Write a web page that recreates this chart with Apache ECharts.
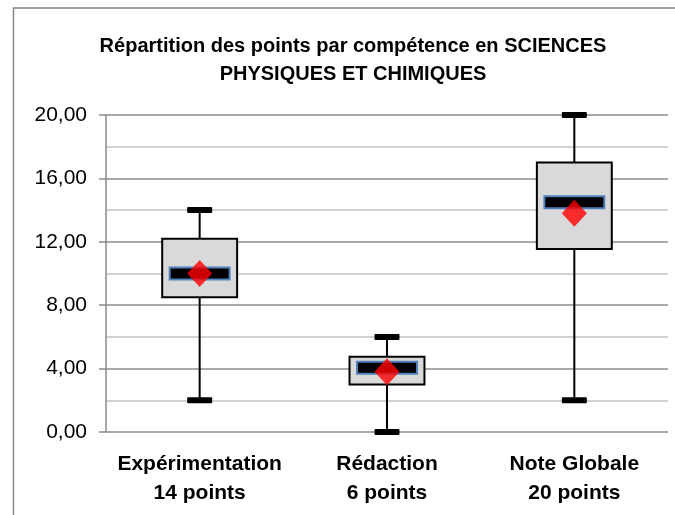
<!DOCTYPE html>
<html>
<head>
<meta charset="utf-8">
<script src="https://cdn.jsdelivr.net/npm/echarts@6/dist/echarts.min.js"></script>
<style>
    html, body { margin: 0; padding: 0; background: #fff; }
    #chart { width: 675px; height: 515px; }
</style>
</head>
<body>
<div id="chart"></div>
<script>
// categories (compétence + barème)
const categories = ['Expérimentation\n14 points', 'Rédaction\n6 points', 'Note Globale\n20 points'];
// boîtes à moustaches
const minVals = [2, 0, 2];
const q1Vals = [8.5, 3.0, 11.55];
const medianVals = [10, 4.05, 14.5];
const q3Vals = [12.2, 4.75, 17.0];
const maxVals = [14, 6, 20];
// moyennes (losanges rouges)
const meanVals = [10, 3.8, 13.8];

const boxData = categories.map((c, i) => [i, minVals[i], q1Vals[i], medianVals[i], q3Vals[i], maxVals[i]]);
const font = "'Liberation Sans', Arial, sans-serif";

const chart = echarts.init(document.getElementById('chart'));

function renderBox(params, api) {
    const i = api.value(0);
    const cx = api.coord([i, 0])[0];
    const catW = api.size([1, 0])[0];
    const boxW = catW * 0.4;
    const medW = catW * 0.32;
    const capW = 25;
    const yMin = api.coord([i, api.value(1)])[1];
    const yQ1 = api.coord([i, api.value(2)])[1];
    const yMed = api.coord([i, api.value(3)])[1];
    const yQ3 = api.coord([i, api.value(4)])[1];
    const yMax = api.coord([i, api.value(5)])[1];
    const black = { stroke: '#000', lineWidth: 2 };
    return {
        type: 'group',
        children: [
            { type: 'line', shape: { x1: cx, y1: yMax, x2: cx, y2: yQ3 }, style: black },
            { type: 'line', shape: { x1: cx, y1: yQ1, x2: cx, y2: yMin }, style: black },
            { type: 'rect', shape: { x: cx - capW / 2, y: yMax - 3, width: capW, height: 6, r: 1 }, style: { fill: '#000' } },
            { type: 'rect', shape: { x: cx - capW / 2, y: yMin - 3, width: capW, height: 6, r: 1 }, style: { fill: '#000' } },
            { type: 'rect', shape: { x: cx - boxW / 2, y: yQ3, width: boxW, height: yQ1 - yQ3 }, style: { fill: '#d9d9d9', stroke: '#000', lineWidth: 2 } },
            { type: 'rect', shape: { x: cx - medW / 2, y: yMed - 6, width: medW, height: 12 }, style: { fill: '#000', stroke: '#4f81bd', lineWidth: 2 } }
        ]
    };
}

chart.setOption({
    animation: false,
    title: {
        text: 'Répartition des points par compétence en SCIENCES\nPHYSIQUES ET CHIMIQUES',
        left: 353,
        top: 32,
        padding: 0,
        textAlign: 'center',
        textStyle: { fontFamily: font, fontSize: 20, fontWeight: 'bold', color: '#000', lineHeight: 28 }
    },
    graphic: [{
        type: 'rect',
        shape: { x: 13.5, y: 8, width: 720, height: 620 },
        style: { fill: null, stroke: '#878787', lineWidth: 1.5 },
        silent: true
    }],
    grid: { left: 106, right: 7, top: 115, bottom: 83 },
    xAxis: {
        type: 'category',
        data: categories,
        axisLine: { show: false },
        axisTick: { show: false },
        axisLabel: { interval: 0, margin: 18, fontFamily: font, fontSize: 21, fontWeight: 'bold', color: '#000', lineHeight: 29 },
        splitLine: { show: false }
    },
    yAxis: {
        type: 'value',
        min: 0,
        max: 20,
        interval: 4,
        axisLine: { show: true, lineStyle: { color: '#8a8a8a', width: 1.5 } },
        axisTick: { show: true, length: 7, lineStyle: { color: '#8a8a8a', width: 1.5 } },
        axisLabel: {
            margin: 19,
            fontFamily: font,
            fontSize: 21,
            color: '#000',
            formatter: v => v.toFixed(2).replace('.', ',')
        },
        splitLine: { lineStyle: { color: '#8c8c8c', width: 1.5 } },
        minorTick: { show: false, splitNumber: 2 },
        minorSplitLine: { show: true, lineStyle: { color: '#c4c4c4', width: 1.5 } }
    },
    series: [
        {
            type: 'custom',
            renderItem: renderBox,
            encode: { x: 0, y: [1, 2, 3, 4, 5] },
            data: boxData,
            z: 3
        },
        {
            type: 'scatter',
            data: meanVals.map((v, i) => [i, v]),
            symbol: 'diamond',
            symbolSize: [25, 27],
            itemStyle: { color: '#ff0000' },
            z: 4
        }
    ]
});
</script>
</body>
</html>
